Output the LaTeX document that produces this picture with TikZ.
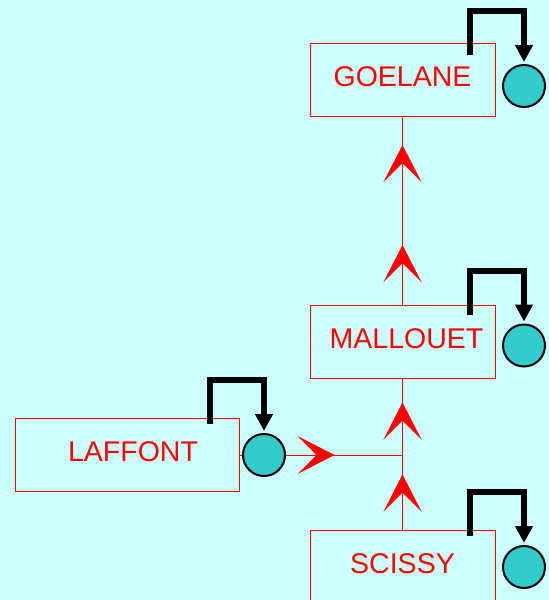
\documentclass[tikz,border=0pt]{standalone}
\usepackage{fontspec}
\setmainfont{Liberation Sans}
\usetikzlibrary{arrows.meta,decorations.markings,calc}
\definecolor{bgcyan}{HTML}{CCFFFF}
\definecolor{tokenteal}{HTML}{33CCCC}
\tikzset{
  barb/.tip={Stealth[length=37pt,width=38pt,inset=19pt]},
  unit/.style={draw=red, line width=1pt, text=red, minimum height=73pt,
    inner sep=0pt, text depth=6pt, font=\fontsize{28.5}{30}\selectfont},
  token/.style={circle, draw=black, line width=2pt, fill=tokenteal,
    minimum size=42pt, inner sep=0pt},
  flow/.style={red, line width=1pt},
  selfloop/.style={line width=6pt, line join=miter, line cap=butt,
    -{Triangle[length=17pt,width=17pt]}, shorten >=2pt},
}
\begin{document}
\begin{tikzpicture}[x=1pt,y=-1pt]
  \fill[bgcyan] (0,0) rectangle (549,600);
  \useasboundingbox (0,0) rectangle (549,600);
  \clip (0,0) rectangle (549,600);

  % units
  \node[unit, minimum width=185pt] (goelane)  at (402.5,79.5) {GOELANE};
  \node[unit, minimum width=185pt] (mallouet) at (402.5,342)  {\hspace{8pt}MALLOUET};
  \node[unit, minimum width=224pt] (laffont)  at (127,455)    {\hspace{12pt}LAFFONT};
  \node[unit, minimum width=185pt] (scissy)   at (402.5,566.5) {SCISSY};

  \coordinate (j) at (mallouet.south |- laffont.east);

  % flows between units
  \draw[flow, postaction={decorate}, decoration={markings,
      mark=at position 60pt with {\arrow{barb}},
      mark=at position 160pt with {\arrow{barb}}}]
    (mallouet.north) -- (goelane.south);
  \draw[flow, postaction={decorate}, decoration={markings,
      mark=at position 55pt with {\arrow{barb}},
      mark=at position 127pt with {\arrow{barb}}}]
    (scissy.north) -- (mallouet.south);
  \draw[flow, postaction={decorate}, decoration={markings,
      mark=at position 95pt with {\arrow{barb}}}]
    (laffont.east) -- (j);

  % tokens
  \node[token] (gc) at (524,86)    {};
  \node[token] (mc) at (524,345.5) {};
  \node[token] (lc) at (264,455)   {};
  \node[token] (sc) at (524,567)   {};

  % self loops
  \foreach \t in {gc,mc,lc,sc}
    \draw[selfloop] ($(\t)+(-54,-31)$) |- ($(\t)+(0,-75)$) -- (\t.north);
\end{tikzpicture}
\end{document}
